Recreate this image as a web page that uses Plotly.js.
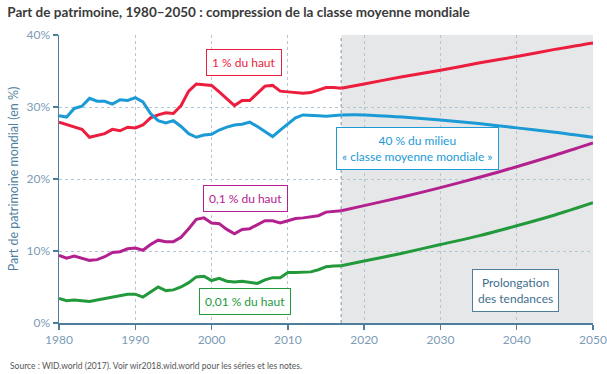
<!DOCTYPE html>
<html>
<head>
<meta charset="utf-8">
<script src="https://cdn.plot.ly/plotly-3.0.1.min.js"></script>
<style>
html,body{margin:0;padding:0;background:#fff;}
#chart{width:607px;height:374px;}
</style>
</head>
<body>
<div id="chart"></div>
<script>
// ---- Data ----
const histYears = [1980,1981,1982,1983,1984,1985,1986,1987,1988,1989,
                   1990,1991,1992,1993,1994,1995,1996,1997,1998,1999,
                   2000,2001,2002,2003,2004,2005,2006,2007,2008,2009,
                   2010,2011,2012,2013,2014,2015,2016,2017];
const projYears = [2017,2020,2025,2030,2035,2040,2045,2050];

const top1Hist = [27.9,27.6,27.2,26.9,25.8,26.0,26.3,26.9,26.7,27.2,
                  27.1,27.5,28.5,28.9,29.2,29.1,30.2,32.2,33.2,33.1,
                  33.0,32.1,31.2,30.2,30.9,30.9,31.9,32.9,33.0,32.2,
                  32.1,32.0,31.9,32.0,32.4,32.7,32.7,32.6];
const top1Proj = [32.6,33.2,34.2,35.1,36.1,37.0,38.0,38.9];

const mid40Hist = [28.8,28.6,29.8,30.1,31.2,30.8,30.8,30.4,31.0,30.9,
                   31.3,30.7,29.1,28.1,27.8,28.1,27.3,26.3,25.8,26.1,
                   26.2,26.8,27.2,27.5,27.6,27.9,27.3,26.6,25.9,26.8,
                   27.7,28.5,28.9,28.9,28.8,28.7,28.8,28.9];
const mid40Proj = [28.9,28.9,28.6,28.2,27.7,27.1,26.5,25.8];

const top01Hist = [9.4,9.0,9.3,9.0,8.7,8.8,9.2,9.8,9.9,10.3,
                   10.4,10.1,10.9,11.5,11.3,11.3,11.9,13.1,14.4,14.6,
                   13.9,13.8,13.0,12.4,13.0,13.1,13.7,14.2,14.2,13.9,
                   14.2,14.5,14.6,14.7,14.9,15.4,15.5,15.6];
const top01Proj = [15.6,16.3,17.5,18.8,20.2,21.7,23.3,25.0];

const top001Hist = [3.4,3.1,3.2,3.1,3.0,3.2,3.4,3.6,3.75,4.0,
                    4.0,3.6,4.3,5.0,4.5,4.6,5.0,5.6,6.4,6.5,
                    5.9,6.2,5.8,5.7,5.8,5.6,5.5,6.0,6.3,6.3,
                    7.0,7.0,7.0,7.1,7.4,7.8,7.9,7.95];
const top001Proj = [7.95,8.6,9.7,10.9,12.1,13.5,15.0,16.7];

const seriesNames = ['1 % du haut','40 % du milieu','0,1 % du haut','0,01 % du haut'];
const xTicks = [1980,1990,2000,2010,2020,2030,2040,2050];
const yTicks = [0,10,20,30,40];
const projStart = 2017, projEnd = 2050;

// ---- Styles ----
const colors = ['#ec1d3d','#1b9ad6','#b3218f','#229a3c'];
const axisColor = '#4f7d9c';
const tickColor = '#7d9cb6';
const gridColor = '#b3c6d4';
const FONT = 'Lato, "Open Sans", sans-serif';

const hist = [top1Hist, mid40Hist, top01Hist, top001Hist];
const proj = [top1Proj, mid40Proj, top01Proj, top001Proj];

const traces = [];
for (let i = 0; i < 4; i++) {
  traces.push({x: histYears, y: hist[i], type:'scatter', mode:'lines', name: seriesNames[i],
    line:{color: colors[i], width:3}, hoverinfo:'skip', showlegend:false});
  traces.push({x: projYears, y: proj[i], type:'scatter', mode:'lines', name: seriesNames[i],
    line:{color: colors[i], width:3, shape:'spline', smoothing:0.8}, hoverinfo:'skip', showlegend:false});
}

function box(text, x, y, color, extra) {
  return Object.assign({
    text: text, x: x, y: y, xref:'x', yref:'y', showarrow:false,
    font:{family: FONT, size:12, color: color},
    bgcolor:'#ffffff', bordercolor: color, borderwidth:1, borderpad:5,
    xanchor:'center', yanchor:'middle'
  }, extra || {});
}

const layout = {
  width:607, height:374,
  margin:{l:59, r:14, t:35, b:51},
  paper_bgcolor:'#ffffff', plot_bgcolor:'#ffffff',
  font:{family: FONT, color: tickColor, size:12},
  title:{text:'<b>Part de patrimoine, 1980–2050 : compression de la classe moyenne mondiale</b>',
    x:0.012, xref:'container', xanchor:'left', y:0.968, yref:'container', yanchor:'middle',
    font:{family: FONT, size:13.5, color:'#3a3a3a'}},
  xaxis:{range:[1980,2050], tickvals:xTicks, ticktext:xTicks.map(String),
    showline:true, linecolor:axisColor, linewidth:1.5,
    ticks:'outside', ticklen:5, tickcolor:axisColor, tickwidth:1.5,
    showgrid:true, gridcolor:gridColor, griddash:'dot', gridwidth:1,
    zeroline:false, tickfont:{family:FONT, size:12, color:tickColor}, fixedrange:true},
  yaxis:{range:[0,40], tickvals:yTicks, ticktext:yTicks.map(v=>v+'%'),
    showline:true, linecolor:axisColor, linewidth:1.5,
    ticks:'outside', ticklen:5, tickcolor:axisColor, tickwidth:1.5,
    showgrid:true, gridcolor:gridColor, griddash:'dot', gridwidth:1,
    zeroline:false, tickfont:{family:FONT, size:12, color:tickColor},
    title:{text:'Part de patrimoine mondial (en %)', standoff:5,
      font:{family:FONT, size:12.5, color:'#4f7fa0'}}, fixedrange:true},
  shapes:[
    {type:'rect', xref:'x', yref:'y', x0:projStart, x1:projEnd, y0:0, y1:40,
     fillcolor:'#e6e7e9', line:{width:0}, layer:'below'},
    {type:'line', xref:'x', yref:'y', x0:projStart, x1:projStart, y0:0, y1:40,
     line:{color:'#a9b2ba', width:1.5, dash:'dot'}, layer:'below'}
  ],
  annotations:[
    box('1 % du haut', 2004.25, 36.2, colors[0]),
    box('40 % du milieu<br>« classe moyenne mondiale »', 2027.0, 24.2, colors[1]),
    box('0,1 % du haut', 2004.4, 17.25, colors[2]),
    box('0,01 % du haut', 2004.4, 2.97, colors[3]),
    box('Prolongation<br>des tendances', 2039.9, 4.47, '#3f6f8f', {bordercolor:'#4f7d9c'}),
    {text:'Source : WID.world (2017). Voir wir2018.wid.world pour les séries et les notes.',
     xref:'paper', yref:'paper', x:-0.095, y:-0.15, xanchor:'left', yanchor:'middle',
     showarrow:false, font:{family:FONT, size:8.5, color:'#555555'}}
  ]
};

Plotly.newPlot('chart', traces, layout, {displayModeBar:false, staticPlot:true});
</script>
</body>
</html>
